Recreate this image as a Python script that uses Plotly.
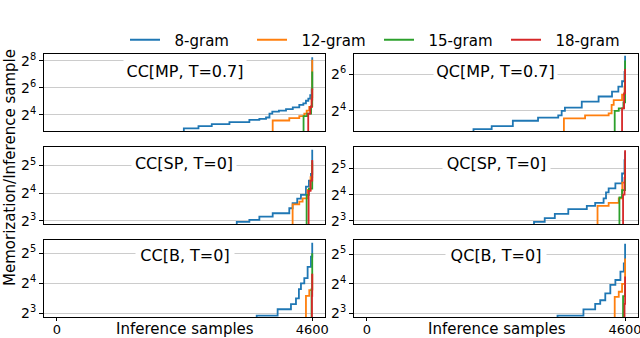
import numpy as np
import plotly.graph_objects as go
from plotly.subplots import make_subplots

# ---- data (sample index, memorization per inference sample) ----
# value 1 = below the axis floor (the curve comes up from below)
cc_mp_8_x = [2288, 2288, 2552, 2791, 3109, 3468, 3648, 3768, 3830, 3881, 4000, 4128, 4250, 4367, 4440, 4487, 4530, 4564, 4590, 4600]
cc_mp_8_y = [1, 8, 9, 10, 11, 12.4, 13, 14, 17, 19, 20, 21.4, 23.5, 26.7, 29, 33, 37, 44, 60, 305]
cc_mp_12_x = [3888, 3888, 4187, 4367, 4457, 4500, 4546, 4590, 4600]
cc_mp_12_y = [1, 12, 13.5, 15, 17, 20, 24, 40, 270]
cc_mp_15_x = [4444, 4444, 4510, 4580, 4600]
cc_mp_15_y = [1, 15, 17, 25, 147]
cc_mp_18_x = [4528, 4528, 4564, 4590, 4600]
cc_mp_18_y = [1, 17, 24, 35, 62]

qc_mp_8_x = [1899, 1899, 2223, 2600, 3049, 3409, 3470, 3528, 3828, 4128, 4367, 4480, 4546, 4590, 4600]
qc_mp_8_y = [1, 8, 9, 11, 12.4, 13.5, 16, 18, 22.7, 27.5, 33, 40, 49, 70, 128]
qc_mp_12_x = [3510, 3510, 3887, 4307, 4360, 4397, 4546, 4590, 4600]
qc_mp_12_y = [1, 12, 13.5, 14.5, 20, 24, 29.5, 40, 60]
qc_mp_15_x = [4415, 4415, 4487, 4570, 4600]
qc_mp_15_y = [1, 16, 17.5, 22, 107]
qc_mp_18_x = [4546, 4546, 4582, 4600]
qc_mp_18_y = [1, 17.5, 31, 78]

cc_sp_8_x = [3241, 3241, 3468, 3648, 3888, 4187, 4247, 4330, 4397, 4487, 4540, 4577, 4600]
cc_sp_8_y = [1, 7.8, 8.2, 8.9, 9.7, 11, 12.5, 14, 15.4, 18.9, 22, 26, 47.6]
cc_sp_12_x = [4247, 4247, 4367, 4427, 4517, 4570, 4600]
cc_sp_12_y = [1, 12.1, 13, 14.1, 17.4, 24, 34]
cc_sp_15_x = [4499, 4499, 4540, 4600]
cc_sp_15_y = [1, 15.4, 18, 36]
cc_sp_18_x = [4535, 4535, 4570, 4600]
cc_sp_18_y = [1, 17, 22, 36.8]

qc_sp_8_x = [2977, 2977, 3168, 3348, 3588, 3918, 4067, 4217, 4260, 4307, 4427, 4546, 4590, 4600]
qc_sp_8_y = [1, 7.8, 8.6, 9.6, 10.9, 11.9, 12.9, 14.5, 17, 18.9, 21.6, 28, 40, 50]
qc_sp_12_x = [4109, 4109, 4307, 4487, 4550, 4600]
qc_sp_12_y = [1, 11.9, 12.9, 14.5, 22, 40]
qc_sp_15_x = [4499, 4499, 4546, 4600]
qc_sp_15_y = [1, 14.9, 18, 40]
qc_sp_18_x = [4564, 4564, 4590, 4600]
qc_sp_18_y = [1, 16, 25, 52]

cc_b_8_x = [3600, 3600, 3977, 4217, 4307, 4360, 4397, 4457, 4517, 4577, 4600]
cc_b_8_y = [1, 7.6, 8.8, 9.9, 11.3, 14, 16, 18, 23.4, 29.6, 40.8]
cc_b_12_x = [4487, 4487, 4547, 4600]
cc_b_12_y = [1, 12, 13.7, 20]
cc_b_15_x = [4588, 4588, 4600]
cc_b_15_y = [1, 14, 32]
cc_b_18_x = [4595, 4595, 4600]
cc_b_18_y = [1, 12, 20]

qc_b_8_x = [3396, 3396, 3858, 4067, 4157, 4247, 4337, 4427, 4517, 4577, 4600]
qc_b_8_y = [1, 7.6, 8.8, 10, 10.9, 12.8, 15.6, 17.5, 21.3, 25.8, 41]
qc_b_12_x = [4415, 4415, 4487, 4546, 4600]
qc_b_12_y = [1, 11.8, 13.3, 16, 29]
qc_b_15_x = [4564, 4564, 4600]
qc_b_15_y = [1, 12, 15.6]
qc_b_18_x = [4590, 4590, 4600]
qc_b_18_y = [1, 10, 19]

ngrams = ['8-gram', '12-gram', '15-gram', '18-gram']
colors = ['#1f77b4', '#ff7f0e', '#2ca02c', '#d62728']
titles = ['CC[MP, T=0.7]', 'QC[MP, T=0.7]', 'CC[SP, T=0]', 'QC[SP, T=0]', 'CC[B, T=0]', 'QC[B, T=0]']
x_ticks = [0, 4600]
y_tick_exps = [[4, 6, 8], [4, 6], [3, 4, 5], [3, 4, 5], [3, 4, 5], [3, 4, 5]]

panels = [
    [(cc_mp_8_x, cc_mp_8_y), (cc_mp_12_x, cc_mp_12_y), (cc_mp_15_x, cc_mp_15_y), (cc_mp_18_x, cc_mp_18_y)],
    [(qc_mp_8_x, qc_mp_8_y), (qc_mp_12_x, qc_mp_12_y), (qc_mp_15_x, qc_mp_15_y), (qc_mp_18_x, qc_mp_18_y)],
    [(cc_sp_8_x, cc_sp_8_y), (cc_sp_12_x, cc_sp_12_y), (cc_sp_15_x, cc_sp_15_y), (cc_sp_18_x, cc_sp_18_y)],
    [(qc_sp_8_x, qc_sp_8_y), (qc_sp_12_x, qc_sp_12_y), (qc_sp_15_x, qc_sp_15_y), (qc_sp_18_x, qc_sp_18_y)],
    [(cc_b_8_x, cc_b_8_y), (cc_b_12_x, cc_b_12_y), (cc_b_15_x, cc_b_15_y), (cc_b_18_x, cc_b_18_y)],
    [(qc_b_8_x, qc_b_8_y), (qc_b_12_x, qc_b_12_y), (qc_b_15_x, qc_b_15_y), (qc_b_18_x, qc_b_18_y)],
]

# ---- layout (pixels of the 640x338 page) ----
W, H = 640, 338
FONT = 'DejaVu Sans'
col_px = [(44, 325), (354, 638)]
row_px = [(54, 131), (147, 224), (240, 317)]
y_rng_log2 = [(2.81, 8.5), (2.9, 7.1), (2.89, 5.67), (2.88, 5.82), (2.88, 5.44), (2.88, 5.48)]
title_box_w = [120, 121, 102, 105, 96, 98]
title_x_px = [185, 495, 184, 496, 185, 496]
title_y_px = [71, 71, 163, 163, 255, 255]

fig = make_subplots(rows=3, cols=2)

for i, series in enumerate(panels):
    r, c = i // 2 + 1, i % 2 + 1
    for k, (xs, ys) in enumerate(series):
        fig.add_trace(go.Scatter(
            x=xs, y=ys, mode='lines', line_shape='hv',
            line=dict(color=colors[k], width=1.8),
            name='\u00a0\u00a0' + ngrams[k], showlegend=(i == 0), legendgroup=ngrams[k],
        ), row=r, col=c)

for i in range(6):
    r, c = i // 2, i % 2
    ax = '' if i == 0 else str(i + 1)
    x0, x1 = col_px[c]
    t0, t1 = row_px[r]
    bottom = r == 2
    fig.layout['xaxis' + ax].update(
        domain=[x0 / W, x1 / W], range=[-230, 4830], automargin=False,
        showgrid=False, zeroline=False,
        showline=True, mirror=True, linecolor='black', linewidth=1,
        tickvals=x_ticks if bottom else [], ticks='outside' if bottom else '',
        ticklen=3, tickcolor='black', showticklabels=bottom, ticklabeloverflow='allow',
        ticklabelstandoff=-3,
        tickfont=dict(family=FONT, size=13, color='black'),
    )
    lo, hi = y_rng_log2[i]
    exps = y_tick_exps[i]
    fig.layout['yaxis' + ax].update(
        domain=[1 - t1 / H, 1 - t0 / H], type='log', automargin=False,
        range=[lo * np.log10(2), hi * np.log10(2)],
        tickvals=[2 ** e for e in exps], ticktext=['2<sup>%d</sup>' % e for e in exps],
        showgrid=True, gridcolor='#cccccc', gridwidth=1, zeroline=False,
        showline=True, mirror=True, linecolor='black', linewidth=1,
        ticks='outside', ticklen=4, tickcolor='black',
        tickfont=dict(family=FONT, size=14, color='black'),
    )
    fig.add_annotation(
        text=titles[i], xref='paper', yref='paper',
        x=title_x_px[i] / W, y=1 - title_y_px[i] / H, xanchor='center', yanchor='middle',
        showarrow=False, bgcolor='white', width=title_box_w[i], height=22,
        font=dict(family=FONT, size=16, color='black'),
    )

for cx in [185, 497]:
    fig.add_annotation(text='Inference samples', xref='paper', yref='paper',
                       x=cx / W, y=1 - 329 / H, xanchor='center', yanchor='middle',
                       showarrow=False, font=dict(family=FONT, size=15, color='black'))

fig.add_annotation(text='Memorization/Inference sample', xref='paper', yref='paper',
                   x=10 / W, y=1 - 168 / H, xanchor='center', yanchor='middle',
                   showarrow=False, textangle=-90,
                   font=dict(family=FONT, size=15, color='black'))

fig.update_layout(
    width=W, height=H, margin=dict(l=0, r=0, t=0, b=0),
    paper_bgcolor='white', plot_bgcolor='white',
    legend=dict(orientation='h', x=125 / W, xanchor='left', y=1 - 40 / H, yanchor='middle',
                entrywidth=82, bgcolor='rgba(0,0,0,0)',
                font=dict(family=FONT, size=15, color='black')),
)

fig.write_html('out.html', config={'displayModeBar': False},
               post_script="document.body.style.margin='0';")
